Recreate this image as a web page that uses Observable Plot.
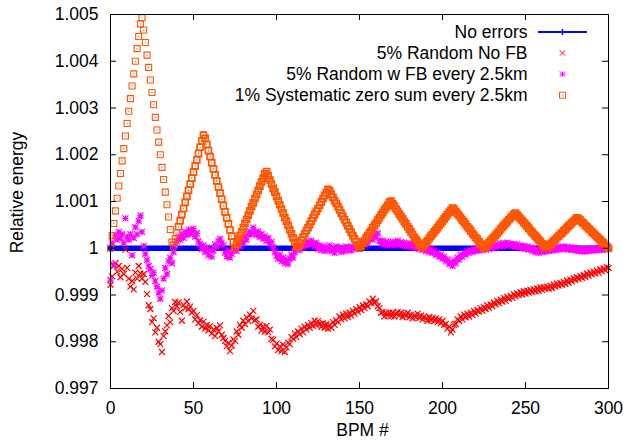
<!DOCTYPE html>
<html>
<head>
<meta charset="utf-8">
<script src="https://cdn.jsdelivr.net/npm/d3@7"></script>
<script src="https://cdn.jsdelivr.net/npm/@observablehq/plot@0.6"></script>
<style>
  html, body { margin: 0; padding: 0; background: #fff; }
</style>
</head>
<body>
<div id="chart"></div>
<script>
// ---- data ----
const xTicks = [0, 50, 100, 150, 200, 250, 300];
const yTicks = [0.997, 0.998, 0.999, 1, 1.001, 1.002, 1.003, 1.004, 1.005];
const yTickLabels = ["0.997", "0.998", "0.999", "1", "1.001", "1.002", "1.003", "1.004", "1.005"];
const xLabel = "BPM #";
const yLabel = "Relative energy";
const seriesNames = ["No errors", "5% Random No FB", "5% Random w FB every 2.5km", "1% Systematic zero sum every 2.5km"];
const seriesColors = ["#0000ff", "#ff0000", "#ff00ff", "#ff5500"];

// "No errors": flat at 1 across the whole range
const noErrorsBpm = [0, 300];
const noErrorsVals = [1, 1];

// values at BPM 0,1,2,...,300
const randomNoFB = [
0.99922,0.99940,0.99962,0.99968,0.99950,0.99962,0.99938,0.99956,0.99945,0.99997,
0.99958,0.99935,0.99918,0.99930,0.99912,0.99948,0.99935,0.99962,0.99946,0.99935,
0.99945,0.99928,0.99902,0.99878,0.99870,0.99842,0.99850,0.99820,0.99830,0.99800,
0.99795,0.99778,0.99812,0.99822,0.99835,0.99855,0.99842,0.99872,0.99866,0.99885,
0.99876,0.99884,0.99864,0.99845,0.99879,0.99872,0.99886,0.99870,0.99875,0.99862,
0.99866,0.99848,0.99857,0.99840,0.99846,0.99832,0.99843,0.99828,0.99836,0.99824,
0.99834,0.99818,0.99826,0.99812,0.99830,0.99822,0.99835,0.99815,0.99808,0.99802,
0.99790,0.99798,0.99780,0.99792,0.99805,0.99802,0.99822,0.99815,0.99836,0.99830,
0.99845,0.99838,0.99852,0.99844,0.99858,0.99850,0.99866,0.99846,0.99848,0.99832,
0.99836,0.99824,0.99832,0.99822,0.99834,0.99820,0.99826,0.99806,0.99804,0.99790,
0.99796,0.99782,0.99790,0.99780,0.99794,0.99778,0.99788,0.99798,0.99795,0.99810,
0.99806,0.99818,0.99810,0.99822,0.99816,0.99828,0.99820,0.99832,0.99826,0.99836,
0.99830,0.99840,0.99834,0.99845,0.99836,0.99844,0.99838,0.99832,0.99840,0.99830,
0.99838,0.99828,0.99836,0.99830,0.99842,0.99836,0.99846,0.99842,0.99854,0.99848,
0.99858,0.99850,0.99860,0.99853,0.99862,0.99856,0.99866,0.99860,0.99870,0.99864,
0.99874,0.99868,0.99878,0.99872,0.99880,0.99876,0.99886,0.99882,0.99892,0.99884,
0.99886,0.99876,0.99872,0.99862,0.99864,0.99854,0.99862,0.99856,0.99862,0.99855,
0.99862,0.99854,0.99860,0.99864,0.99856,0.99862,0.99853,0.99860,0.99855,0.99862,
0.99852,0.99858,0.99850,0.99857,0.99852,0.99860,0.99851,0.99856,0.99848,0.99854,
0.99850,0.99845,0.99853,0.99846,0.99851,0.99844,0.99850,0.99842,0.99848,0.99840,
0.99845,0.99836,0.99838,0.99828,0.99832,0.99820,0.99826,0.99836,0.99838,0.99848,
0.99845,0.99854,0.99848,0.99858,0.99852,0.99860,0.99854,0.99862,0.99857,0.99866,
0.99860,0.99868,0.99864,0.99872,0.99866,0.99874,0.99870,0.99878,0.99872,0.99880,
0.99876,0.99884,0.99880,0.99888,0.99882,0.99890,0.99886,0.99894,0.99888,0.99896,
0.99892,0.99898,0.99894,0.99902,0.99897,0.99904,0.99900,0.99906,0.99901,0.99908,
0.99903,0.99909,0.99905,0.99911,0.99906,0.99912,0.99908,0.99914,0.99909,0.99916,
0.99911,0.99917,0.99913,0.99918,0.99914,0.99920,0.99915,0.99922,0.99918,0.99924,
0.99920,0.99926,0.99922,0.99928,0.99924,0.99931,0.99926,0.99933,0.99929,0.99936,
0.99932,0.99938,0.99934,0.99941,0.99937,0.99943,0.99939,0.99946,0.99941,0.99948,
0.99944,0.99950,0.99946,0.99952,0.99948,0.99955,0.99951,0.99957,0.99953,0.99960,
0.99958];

const randomWithFB = [
0.99932,1.00012,0.99965,1.00028,1.00018,1.00035,1.00022,1.00030,1.00012,1.00064,
1.00025,1.00018,1.00030,0.99985,1.00022,1.00045,1.00030,1.00058,1.00070,1.00035,
1.00005,0.99988,0.99975,0.99962,0.99955,0.99942,0.99948,0.99930,0.99918,0.99905,
0.99892,0.99910,0.99935,0.99958,0.99945,0.99972,0.99980,0.99968,0.99992,1.00008,
1.00015,1.00025,1.00018,1.00030,1.00022,1.00035,1.00028,1.00040,1.00030,1.00038,
1.00042,1.00025,1.00032,1.00015,1.00008,0.99998,1.00006,0.99992,1.00002,0.99985,
0.99996,0.99982,0.99995,1.00008,1.00002,1.00015,1.00020,1.00012,1.00006,0.99990,
0.99982,0.99995,0.99980,0.99988,0.99996,1.00002,0.99994,1.00010,1.00004,1.00016,
1.00012,1.00024,1.00018,1.00030,1.00036,1.00030,1.00044,1.00034,1.00028,1.00036,
1.00024,1.00030,1.00020,1.00026,1.00016,1.00022,1.00010,1.00014,1.00002,0.99992,
0.99984,0.99978,0.99986,0.99972,0.99980,0.99968,0.99975,0.99966,0.99978,0.99986,
0.99980,0.99992,0.99998,1.00004,0.99996,1.00008,1.00002,1.00012,1.00006,1.00014,
1.00008,1.00016,1.00010,1.00004,1.00012,0.99998,1.00006,0.99996,1.00004,0.99994,
1.00002,0.99996,1.00006,0.99994,1.00000,0.99990,1.00004,0.99996,1.00002,0.99992,
1.00000,0.99994,1.00004,0.99996,1.00002,0.99995,1.00004,0.99998,1.00006,1.00000,
1.00010,1.00004,1.00014,1.00008,1.00016,1.00010,1.00020,1.00026,1.00018,1.00030,
1.00024,1.00032,1.00016,1.00010,1.00016,1.00008,1.00014,1.00006,1.00012,1.00008,
1.00014,1.00006,1.00012,1.00016,1.00008,1.00013,1.00006,1.00012,1.00004,1.00010,
1.00004,1.00010,1.00002,1.00008,1.00000,1.00006,0.99998,1.00004,0.99996,1.00002,
0.99994,1.00000,0.99992,0.99998,0.99990,0.99994,0.99986,0.99990,0.99982,0.99986,
0.99978,0.99982,0.99972,0.99976,0.99966,0.99970,0.99962,0.99974,0.99968,0.99980,
0.99976,0.99986,0.99982,0.99990,0.99986,0.99994,0.99990,0.99996,0.99992,0.99998,
0.99994,1.00000,0.99995,1.00002,0.99996,1.00003,0.99997,1.00004,0.99998,1.00006,
1.00000,1.00006,1.00002,1.00008,1.00004,1.00010,1.00004,1.00011,1.00006,1.00012,
1.00006,1.00010,1.00004,1.00009,1.00003,1.00008,1.00002,1.00006,1.00000,1.00005,
0.99998,1.00004,0.99997,1.00002,0.99994,1.00000,0.99992,0.99998,0.99990,0.99996,
0.99992,0.99998,0.99993,0.99999,0.99994,1.00000,0.99995,1.00001,0.99996,1.00002,
0.99997,1.00003,0.99998,1.00004,0.99998,1.00003,0.99997,1.00002,0.99996,1.00001,
0.99995,1.00000,0.99994,0.99999,0.99993,0.99998,0.99993,0.99998,0.99994,0.99999,
0.99995,1.00000,0.99995,1.00000,0.99996,1.00001,0.99996,1.00001,0.99997,1.00002,
0.99998];

const systematic = [
1.00000,1.00027,1.00053,1.00080,1.00107,1.00133,1.00160,1.00187,1.00213,1.00240,
1.00267,1.00293,1.00320,1.00347,1.00373,1.00400,1.00427,1.00453,1.00480,1.00493,
1.00467,1.00440,1.00413,1.00387,1.00360,1.00333,1.00307,1.00280,1.00253,1.00227,
1.00200,1.00173,1.00147,1.00120,1.00093,1.00067,1.00040,1.00013,1.00007,1.00020,
1.00033,1.00046,1.00059,1.00072,1.00085,1.00098,1.00111,1.00124,1.00137,1.00150,
1.00163,1.00176,1.00189,1.00203,1.00216,1.00229,1.00242,1.00235,1.00222,1.00209,
1.00196,1.00183,1.00170,1.00157,1.00144,1.00131,1.00118,1.00105,1.00091,1.00078,
1.00065,1.00052,1.00039,1.00026,1.00013,1.00000,1.00009,1.00018,1.00027,1.00035,
1.00044,1.00053,1.00062,1.00071,1.00080,1.00089,1.00097,1.00106,1.00115,1.00124,
1.00133,1.00142,1.00150,1.00159,1.00164,1.00155,1.00146,1.00137,1.00128,1.00120,
1.00111,1.00102,1.00093,1.00084,1.00075,1.00066,1.00058,1.00049,1.00040,1.00031,
1.00022,1.00013,1.00004,1.00003,1.00010,1.00017,1.00024,1.00031,1.00038,1.00044,
1.00051,1.00058,1.00065,1.00072,1.00079,1.00085,1.00092,1.00099,1.00106,1.00113,
1.00119,1.00126,1.00123,1.00116,1.00109,1.00102,1.00096,1.00089,1.00082,1.00075,
1.00068,1.00061,1.00055,1.00048,1.00041,1.00034,1.00027,1.00020,1.00014,1.00007,
1.00000,1.00005,1.00011,1.00016,1.00022,1.00027,1.00033,1.00038,1.00044,1.00049,
1.00054,1.00060,1.00065,1.00071,1.00076,1.00082,1.00087,1.00092,1.00098,1.00101,
1.00095,1.00090,1.00084,1.00079,1.00073,1.00068,1.00063,1.00057,1.00052,1.00046,
1.00041,1.00035,1.00030,1.00024,1.00019,1.00014,1.00008,1.00003,1.00002,1.00007,
1.00012,1.00016,1.00021,1.00026,1.00030,1.00035,1.00039,1.00044,1.00049,1.00053,
1.00058,1.00063,1.00067,1.00072,1.00077,1.00081,1.00086,1.00084,1.00079,1.00074,
1.00070,1.00065,1.00060,1.00056,1.00051,1.00046,1.00042,1.00037,1.00032,1.00028,
1.00023,1.00019,1.00014,1.00009,1.00005,1.00000,1.00004,1.00008,1.00012,1.00016,
1.00020,1.00024,1.00028,1.00032,1.00036,1.00041,1.00045,1.00049,1.00053,1.00057,
1.00061,1.00065,1.00069,1.00073,1.00075,1.00071,1.00067,1.00063,1.00059,1.00055,
1.00051,1.00047,1.00043,1.00038,1.00034,1.00030,1.00026,1.00022,1.00018,1.00014,
1.00010,1.00006,1.00002,1.00002,1.00005,1.00009,1.00012,1.00016,1.00019,1.00023,
1.00026,1.00030,1.00033,1.00037,1.00040,1.00044,1.00048,1.00051,1.00055,1.00058,
1.00062,1.00065,1.00063,1.00060,1.00056,1.00053,1.00049,1.00046,1.00042,1.00039,
1.00035,1.00032,1.00028,1.00025,1.00021,1.00018,1.00014,1.00011,1.00007,1.00004,
1.00000];

// ---- gnuplot-like point symbols ----
const half = (size) => Math.sqrt(size / Math.PI);
const symTimes = {draw(c, s) { const r = half(s); c.moveTo(-r, -r); c.lineTo(r, r); c.moveTo(-r, r); c.lineTo(r, -r); }};
const symStar = {draw(c, s) { const r = half(s); c.moveTo(-r, -r); c.lineTo(r, r); c.moveTo(-r, r); c.lineTo(r, -r); c.moveTo(-r, 0); c.lineTo(r, 0); c.moveTo(0, -r); c.lineTo(0, r); }};
const symBox = {draw(c, s) { const r = half(s); c.moveTo(-r, -r); c.lineTo(r, -r); c.lineTo(r, r); c.lineTo(-r, r); c.closePath(); c.moveTo(-0.5, 0); c.lineTo(0.5, 0); }};
const symPlus = {draw(c, s) { const r = half(s); c.moveTo(-r, 0); c.lineTo(r, 0); c.moveTo(0, -r); c.lineTo(0, r); }};
const symKeyLine = {draw(c, s) { const r = half(s); c.moveTo(-r, 0); c.lineTo(r, 0); }};

const W = 627, H = 440;
const mL = 110, mR = 19, mT = 14, mB = 52;
const fw = W - mL - mR, fh = H - mT - mB;
const tick = 6;
const font = "'Liberation Sans', Arial, Helvetica, sans-serif";

const keyDy = (i) => 17.4 + 21.1 * i;
const legendMarks = [];
seriesNames.forEach((name, i) => {
  legendMarks.push(Plot.text([name], {frameAnchor: "top-right", dx: -81, dy: keyDy(i), textAnchor: "end", lineAnchor: "middle", fill: "#000"}));
});
legendMarks.push(Plot.dot([0], {frameAnchor: "top-right", dx: -46, dy: keyDy(0), symbol: symKeyLine, r: 24.5, stroke: seriesColors[0], strokeWidth: 2, fill: "none"}));
legendMarks.push(Plot.dot([0], {frameAnchor: "top-right", dx: -46, dy: keyDy(0), symbol: symPlus, r: 3, stroke: seriesColors[0], strokeWidth: 1.5, fill: "none"}));
legendMarks.push(Plot.dot([0], {frameAnchor: "top-right", dx: -46, dy: keyDy(1), symbol: symTimes, r: 2.7, stroke: seriesColors[1], strokeWidth: 1, fill: "none"}));
legendMarks.push(Plot.dot([0], {frameAnchor: "top-right", dx: -46, dy: keyDy(2), symbol: symStar, r: 2.7, stroke: seriesColors[2], strokeWidth: 1, fill: "none"}));
legendMarks.push(Plot.dot([0], {frameAnchor: "top-right", dx: -46, dy: keyDy(3), symbol: symBox, r: 3, stroke: seriesColors[3], strokeWidth: 1, fill: "none"}));

const chart = Plot.plot({
  width: W, height: H,
  marginLeft: mL, marginRight: mR, marginTop: mT, marginBottom: mB,
  x: {type: "linear", domain: [0, 300]},
  y: {type: "linear", domain: [0.997, 1.005]},
  style: {fontFamily: font, fontSize: "17.5px", color: "#000", background: "#fff"},
  marks: [
    // series
    Plot.line(noErrorsBpm, {x: d => d, y: (d, i) => noErrorsVals[i], stroke: seriesColors[0], strokeWidth: 5.6}),
    Plot.dot(randomNoFB, {x: (d, i) => i, y: d => d, symbol: symTimes, r: 3, stroke: seriesColors[1], strokeWidth: 1.2, fill: "none"}),
    Plot.dot(randomWithFB, {x: (d, i) => i, y: d => d, symbol: symStar, r: 3, stroke: seriesColors[2], strokeWidth: 1.2, fill: "none"}),
    Plot.dot(systematic, {filter: (d, i) => i <= 40, x: (d, i) => i, y: d => d, symbol: symBox, r: 3, stroke: seriesColors[3], strokeWidth: 1.1, fill: "none"}),
    Plot.dot(systematic, {filter: (d, i) => i > 40, x: (d, i) => i, y: d => d, symbol: symBox, r: 3, stroke: seriesColors[3], strokeWidth: 1.7, fill: "none"}),
    // frame and inward ticks on all four sides
    Plot.frame({stroke: "#000", strokeWidth: 1}),
    Plot.ruleX(xTicks, {x: d => d, insetTop: fh - tick, stroke: "#000"}),
    Plot.ruleX(xTicks, {x: d => d, insetBottom: fh - tick, stroke: "#000"}),
    Plot.ruleY(yTicks, {y: d => d, insetRight: fw - tick, stroke: "#000"}),
    Plot.ruleY(yTicks, {y: d => d, insetLeft: fw - tick, stroke: "#000"}),
    // tick labels
    Plot.axisX({ticks: xTicks, tickSize: 0, tickPadding: 13, label: null, tickFormat: d => String(d), fill: "#000"}),
    Plot.axisY({ticks: yTicks, tickSize: 0, tickPadding: 12, label: null, tickFormat: d => yTickLabels[yTicks.indexOf(d)], fill: "#000"}),
    // axis titles
    Plot.text([yLabel], {frameAnchor: "left", dx: -93, dy: -9, rotate: -90, textAnchor: "middle", lineAnchor: "middle", fill: "#000"}),
    Plot.text([xLabel], {frameAnchor: "bottom", dx: 3, dy: 41.5, textAnchor: "middle", lineAnchor: "middle", fill: "#000"}),
    ...legendMarks
  ]
});
document.getElementById("chart").appendChild(chart);
</script>
</body>
</html>
